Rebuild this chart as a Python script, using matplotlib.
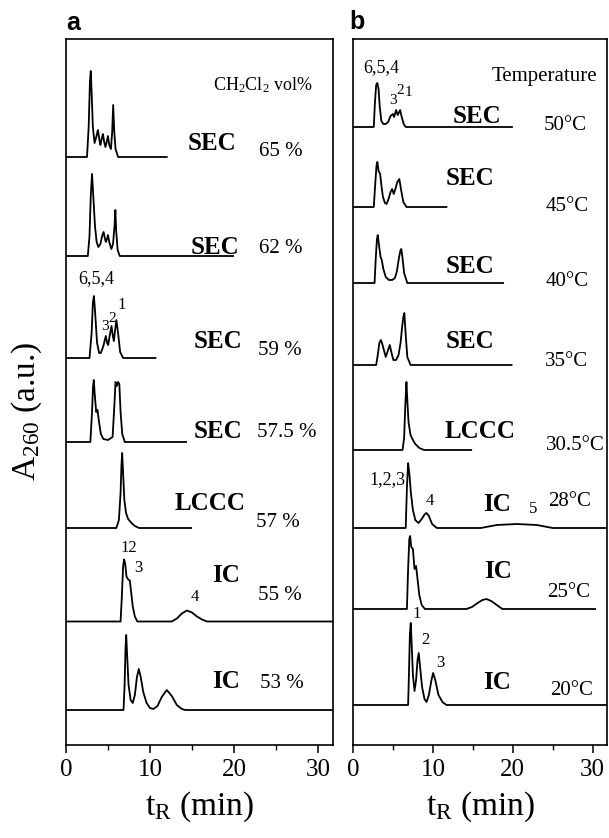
import matplotlib
matplotlib.use("Agg")
import matplotlib.pyplot as plt
from matplotlib.ticker import MultipleLocator

W, H = 609, 838

plt.rcParams['font.family'] = ['Liberation Serif', 'DejaVu Serif']
plt.rcParams['mathtext.fontset'] = 'custom'
plt.rcParams['mathtext.rm'] = 'Liberation Serif'
plt.rcParams['mathtext.it'] = 'Liberation Serif:italic'
plt.rcParams['mathtext.bf'] = 'Liberation Serif:bold'

# ---- panel a: CH2Cl2 vol%  (retention time in min, absorbance in a.u.)
a_labels = ['65 %', '62 %', '59 %', '57.5 %', '57 %', '55 %', '53 %']
a_modes = ['SEC', 'SEC', 'SEC', 'SEC', 'LCCC', 'IC', 'IC']

t_a65 = [0, 2.5, 2.7, 2.85, 2.95, 3.05, 3.2, 3.4, 3.6, 3.8, 4.0, 4.1, 4.25, 4.4, 4.55, 4.7, 4.85,
         5.0, 5.15, 5.35, 5.5, 5.62, 5.75, 5.9, 6.2, 12]
y_a65 = [0, 0, 30, 75, 86, 65, 30, 14, 20, 27, 16, 12, 18, 23, 15, 10, 15,
         21, 12, 8, 25, 52, 25, 8, 0, 0]

t_a62 = [0, 2.6, 2.8, 2.95, 3.1, 3.25, 3.45, 3.65, 3.85, 4.1, 4.3, 4.48, 4.62, 4.75, 4.88, 5.0,
         5.15, 5.4, 5.6, 5.78, 5.88, 5.98, 6.15, 6.4, 19.9]
y_a62 = [0, 0, 20, 60, 82, 60, 30, 14, 9, 12, 20, 24, 18, 14, 17, 21,
         14, 7, 12, 30, 46, 25, 6, 0, 0]

t_a59 = [0, 2.8, 3.05, 3.2, 3.32, 3.45, 3.7, 3.95, 4.15, 4.45, 4.74, 4.9, 5.02, 5.2, 5.42, 5.58,
         5.7, 5.85, 6.0, 6.2, 6.45, 6.8, 10.65]
y_a59 = [0, 0, 25, 55, 62, 48, 15, 5, 5, 12, 22, 15, 13, 22, 32, 22,
         17, 28, 38, 25, 6, 0, 0]

t_a575 = [0, 2.9, 3.1, 3.22, 3.31, 3.42, 3.6, 3.75, 3.9, 4.15, 4.45, 5.0, 5.55, 5.75, 5.9, 6.05,
          6.2, 6.35, 6.5, 6.7, 7.0, 14.3]
y_a575 = [0, 0, 30, 55, 62, 48, 30, 32, 22, 8, 3, 2, 5, 35, 60, 56,
          60, 58, 30, 8, 0, 0]

t_a57 = [0, 6.0, 6.3, 6.5, 6.6, 6.69, 6.8, 6.95, 7.15, 7.4, 7.8, 8.2, 8.7, 14.9]
y_a57 = [0, 0, 8, 35, 62, 75, 55, 28, 15, 9, 5, 2, 0, 0]

t_a55 = [0, 6.5, 6.65, 6.8, 6.92, 7.05, 7.2, 7.4, 7.6, 7.75, 7.95, 8.2, 8.5, 12.6, 13.2, 13.8,
         14.4, 15.0, 15.6, 16.2, 16.8, 31.8]
y_a55 = [0, 0, 25, 55, 62, 58, 45, 42, 41, 30, 15, 5, 0, 0, 3, 8,
         11, 9, 5, 2, 0, 0]

t_a53 = [0, 6.85, 6.98, 7.08, 7.17, 7.28, 7.45, 7.7, 7.95, 8.2, 8.45, 8.67, 8.9, 9.2, 9.6, 10.0,
         10.4, 10.9, 11.4, 12.0, 12.6, 13.2, 13.8, 14.2, 31.8]
y_a53 = [0, 0, 25, 60, 75, 55, 25, 10, 7, 15, 33, 41, 33, 18, 7, 2,
         1, 4, 13, 20, 14, 5, 1, 0, 0]

# ---- panel b: temperature
b_labels = ['50°C', '45°C', '40°C', '35°C', '30.5°C', '28°C', '25°C', '20°C']
b_modes = ['SEC', 'SEC', 'SEC', 'SEC', 'LCCC', 'IC', 'IC', 'IC']

t_b50 = [0, 2.6, 2.75, 2.9, 3.05, 3.2, 3.35, 3.55, 3.8, 4.1, 4.4, 4.7, 5.0, 5.15, 5.4, 5.6,
         5.9, 6.1, 6.35, 6.6, 19.9]
y_b50 = [0, 0, 25, 42, 44, 38, 20, 6, 3, 3, 5, 11, 13, 10, 17, 12,
         17, 10, 3, 0, 0]

t_b45 = [0, 2.6, 2.8, 2.95, 3.05, 3.2, 3.4, 3.55, 3.75, 4.0, 4.2, 4.45, 4.7, 4.9, 5.1, 5.3,
         5.55, 5.8, 6.0, 6.3, 6.7, 11.7]
y_b45 = [0, 0, 25, 42, 45, 36, 33, 22, 10, 4, 3, 8, 15, 18, 13, 18,
         25, 28, 18, 5, 0, 0]

t_b40 = [0, 2.7, 2.85, 3.0, 3.1, 3.25, 3.45, 3.6, 3.8, 4.1, 4.5, 4.9, 5.25, 5.5, 5.75, 5.95,
         6.05, 6.2, 6.4, 6.8, 18.8]
y_b40 = [0, 0, 25, 44, 48, 38, 26, 23, 14, 6, 3, 3, 5, 12, 25, 33,
         34, 25, 10, 0, 0]

t_b35 = [0, 2.9, 3.1, 3.3, 3.5, 3.7, 3.9, 4.1, 4.35, 4.6, 4.8, 5.05, 5.4, 5.7, 5.95, 6.15,
         6.3, 6.43, 6.6, 6.8, 7.2, 19.85]
y_b35 = [0, 0, 10, 22, 25, 20, 14, 8, 14, 20, 13, 5, 5, 10, 22, 38,
         48, 52, 30, 8, 0, 0]

t_b305 = [0, 6.2, 6.4, 6.55, 6.69, 6.8, 6.95, 7.2, 7.5, 7.8, 8.3, 8.9, 14.8]
y_b305 = [0, 0, 12, 45, 68, 50, 28, 15, 10, 6, 2, 0, 0]

t_b28 = [0, 6.6, 6.75, 6.9, 7.05, 7.25, 7.5, 7.8, 8.2, 8.6, 9.0, 9.2, 9.5, 9.9, 10.5, 16,
         18, 20.5, 23, 25, 31.8]
y_b28 = [0, 0, 40, 65, 55, 35, 18, 8, 5, 9, 14, 15, 12, 4, 0, 0,
         3, 4, 3, 0, 0]

t_b25 = [0, 6.75, 6.9, 7.05, 7.15, 7.3, 7.5, 7.7, 7.9, 8.05, 8.3, 8.6, 9.0, 14.2, 14.9, 15.6,
         16.2, 16.7, 17.3, 18.0, 18.7, 30.3]
y_b25 = [0, 0, 40, 70, 73, 62, 60, 40, 43, 32, 14, 4, 0, 0, 2, 6,
         9, 10, 8, 4, 0, 0]

t_b20 = [0, 6.9, 7.0, 7.12, 7.23, 7.35, 7.5, 7.7, 7.9, 8.08, 8.23, 8.4, 8.65, 8.95, 9.2, 9.5,
         9.8, 10.03, 10.3, 10.7, 11.2, 11.7, 31.8]
y_b20 = [0, 0, 30, 70, 82, 60, 30, 14, 25, 45, 52, 38, 18, 6, 3, 10,
         24, 32, 25, 10, 3, 0, 0]

a_traces = [(t_a65, y_a65), (t_a62, y_a62), (t_a59, y_a59), (t_a575, y_a575),
            (t_a57, y_a57), (t_a55, y_a55), (t_a53, y_a53)]
b_traces = [(t_b50, y_b50), (t_b45, y_b45), (t_b40, y_b40), (t_b35, y_b35),
            (t_b305, y_b305), (t_b28, y_b28), (t_b25, y_b25), (t_b20, y_b20)]

# vertical stacking of the chromatograms (baseline of each trace)
a_offsets = [588, 489, 387, 303, 217, 123.5, 35]
b_offsets = [618, 538, 462, 380, 295, 217, 136, 40]

fig = plt.figure(figsize=(W / 100, H / 100), dpi=100)


def ftext(x, y, s, **kw):
    # place text by pixel position measured from the top-left corner
    kw.setdefault('ha', 'center')
    kw.setdefault('va', 'center')
    fig.text(x / W, 1 - y / H, s, **kw)


ax_a = fig.add_axes([66 / W, 1 - 745 / H, (333 - 66) / W, 706 / H])
ax_b = fig.add_axes([353 / W, 1 - 745 / H, (607 - 353) / W, 706 / H])

for ax, traces, offsets in [(ax_a, a_traces, a_offsets), (ax_b, b_traces, b_offsets)]:
    for (t, y), off in zip(traces, offsets):
        ax.plot(t, [off + v for v in y], color='black', lw=1.3, solid_joinstyle='round')
    ax.set_xlim(0, 31.8)
    ax.set_ylim(0, 706)
    ax.set_yticks([])
    ax.xaxis.set_major_locator(MultipleLocator(10))
    ax.xaxis.set_minor_locator(MultipleLocator(5))
    ax.tick_params(axis='x', which='major', direction='out', length=6, width=1.1,
                   labelsize=18, pad=4)
    ax.tick_params(axis='x', which='minor', direction='out', length=3.5, width=1.0)
    for s in ax.spines.values():
        s.set_linewidth(1.2)
    ax.set_xlabel(r't$_\mathrm{R}$ (min)', fontsize=24, labelpad=6)

# panel letters
ftext(73.5, 23.5, 'a', family='Liberation Sans', fontweight='bold', fontsize=18)
ftext(357, 22, 'b', family='Liberation Sans', fontweight='bold', fontsize=18)

# y label
ftext(27, 411, r'A$_{260}$ (a.u.)', fontsize=24, rotation=90)

# panel a annotations
ftext(213, 85, r'CH$_2$Cl$_2$ vol%', fontsize=13, ha='left')
a_mode_xy = [(211.7, 143.3), (215, 247.3), (218.3, 341.7), (218.3, 431.7),
             (210, 503.3), (226, 575), (226, 681.7)]
a_pct_xy = [(280.7, 151.7), (280.7, 248.3), (280, 350.7), (257, 432.7),
            (278.3, 522.7), (280, 595), (281.7, 684)]
for (x, y), m in zip(a_mode_xy, a_modes):
    ftext(x, y, m, fontsize=18, fontweight='bold')
for (x, y), lab in zip(a_pct_xy, a_labels):
    if lab == '57.5 %':
        ftext(x, y, lab, fontsize=15, ha='left')
    else:
        ftext(x, y, lab, fontsize=15)

ftext(96, 279, '6,5,4', fontsize=13)
ftext(105.5, 326, '3', fontsize=11)
ftext(112.5, 318, '2', fontsize=11)
ftext(121.3, 305, '1', fontsize=12)
ftext(128.7, 548.3, '12', fontsize=12)
ftext(138, 568, '3', fontsize=12)
ftext(194.5, 597, '4', fontsize=12)

# panel b annotations
ftext(544, 76, 'Temperature', fontsize=15)
b_mode_xy = [(476.7, 116.7), (470, 178.3), (470, 266.7), (470, 341.7),
             (480, 431.7), (496.7, 504), (498.3, 571), (496.7, 682.7)]
b_temp_xy = [(565, 125), (566.7, 206.7), (566.7, 281.7), (566.7, 361.7),
             (575, 445), (570, 501.7), (568.3, 592.3), (571.7, 690)]
for (x, y), m in zip(b_mode_xy, b_modes):
    ftext(x, y, m, fontsize=18, fontweight='bold')
for (x, y), lab in zip(b_temp_xy, b_labels):
    ftext(x, y, lab, fontsize=15)

ftext(381, 68, '6,5,4', fontsize=13)
ftext(392.5, 101, '3', fontsize=11)
ftext(400, 90, '2', fontsize=11)
ftext(408.5, 93, '1', fontsize=11)
ftext(387.5, 480, '1,2,3', fontsize=13)
ftext(430, 501, '4', fontsize=12)
ftext(533.3, 509.3, '5', fontsize=12)
ftext(416.7, 614, '1', fontsize=12)
ftext(425, 640, '2', fontsize=12)
ftext(440, 663, '3', fontsize=12)

fig.savefig('out.png', dpi=100)
